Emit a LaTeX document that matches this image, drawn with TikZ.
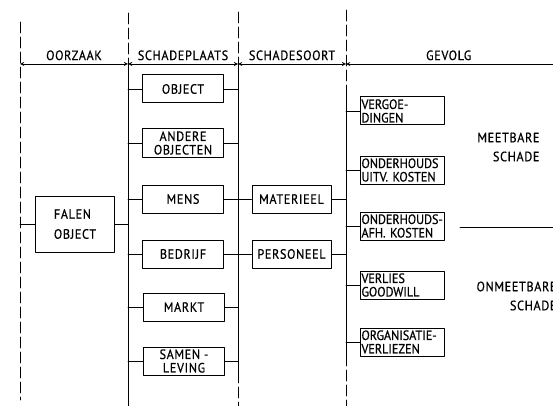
\documentclass[tikz,border=0pt]{standalone}
\usepackage{fontspec}
\setmainfont{PT Sans}[FakeStretch=0.9, FakeBold=0.6, LetterSpace=5]
\tikzset{
  kolom/.style={dash pattern=on 11pt off 4pt, line width=0.9pt},
  bus/.style={line width=0.9pt},
  blok/.style={draw, line width=1pt, minimum width=81pt, minimum height=28pt, inner sep=1pt, align=center},
  gevolg/.style={blok, minimum width=84pt, text width=82pt, align=left, font=\fontsize{13.5}{13.5}\selectfont\addfontfeature{LetterSpace=0}},
  schade/.style={anchor=east, align=right, font=\fontsize{13.5}{19}\selectfont}
}
\begin{document}
\begin{tikzpicture}[x=1pt, y=-1pt, font=\fontsize{13.5}{13.5}\selectfont, line join=round, line cap=round, >=stealth]
		\useasboundingbox (0,0) rectangle (553,406);
		\clip (0,0) rectangle (553,406);
		\coordinate (k0) at (20,0); \coordinate (b1) at (128,0);
		\coordinate (b2) at (238,0); \coordinate (b3) at (346,0);
		% kolomgrenzen
		\draw[kolom] (20,22)--(20,400);
		\draw[kolom] (128,13)--(128,406);
		\draw[kolom] (238,12)--(238,406);
		\draw[kolom] (346,10)--(346,406);
		\draw[bus] (128,64)--(128,406);
		\draw[bus] (238,64)--(238,375);
		\draw[bus] (346,93)--(346,360);
		% koppen
		\draw[bus,<->] (20,64)--(128,64) node[midway,above]{OORZAAK};
		\draw[bus,<->] (128,64)--(238,64) node[midway,above]{SCHADEPLAATS};
		\draw[bus,<->] (238,64)--(346,64) node[midway,above]{SCHADESOORT};
		\draw[bus,<-] (346,64)--(560,64) node[pos=.48,above]{GEVOLG};
		% blokken
		\node[blok, minimum width=79pt, minimum height=56pt, align=left, font=\fontsize{13.5}{20}\selectfont] (falen) at (75,224) {FALEN\\OBJECT};
		\node[blok] (object) at (183,89) {OBJECT};
		\node[blok] (andere) at (183,143) {ANDERE\\OBJECTEN};
		\node[blok] (mens) at (183,199) {MENS};
		\node[blok] (bedrijf) at (183,254) {BEDRIJF};
		\node[blok] (markt) at (184,307) {MARKT};
		\node[blok] (samenleving) at (184,361) {SAMEN -\\LEVING};
		\node[blok, minimum width=79pt] (materieel) at (291.5,199) {MATERIEEL};
		\node[blok, minimum width=79pt] (personeel) at (291.5,254) {PERSONEEL};
		\node[gevolg] (vergoedingen) at (402.5,111) {VERGOE-\\DINGEN};
		\node[gevolg] (uitv) at (402.5,170) {ONDERHOUDS\\UITV. KOSTEN};
		\node[gevolg] (afh) at (402.5,226) {ONDERHOUDS-\\AFH. KOSTEN};
		\node[gevolg] (goodwill) at (402.5,285) {VERLIES\\GOODWILL};
		\node[gevolg] (organisatie) at (402.5,342) {ORGANISATIE-\\VERLIEZEN};
		\node[schade] (meetbaar) at (543,147) {MEETBARE\\SCHADE};
		\node[schade] (onmeetbaar) at (560,296) {ONMEETBARE\\SCHADE};
		\draw[bus] (460,227)--(553,227);
		% verbindingen
		\draw[bus] (falen.west)--(falen.west-|k0);
		\draw[bus] (falen.east)--(falen.east-|b1);
		\foreach \n in {object,andere,mens,bedrijf,markt,samenleving}{
			\draw[bus] (\n.west)--(\n.west-|b1);
			\draw[bus] (\n.east)--(\n.east-|b2);}
		\foreach \n in {materieel,personeel}{
			\draw[bus] (\n.west)--(\n.west-|b2);
			\draw[bus] (\n.east)--(\n.east-|b3);}
		\foreach \n in {vergoedingen,uitv,afh,goodwill,organisatie}
			\draw[bus] (\n.west)--(\n.west-|b3);
		
\end{tikzpicture}
\end{document}
